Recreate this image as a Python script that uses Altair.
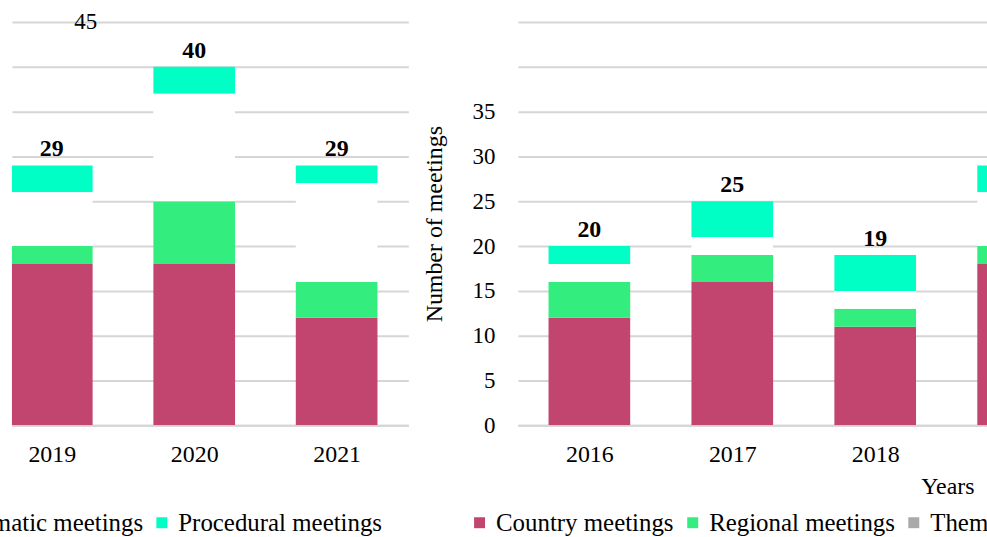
import altair as alt
import pandas as pd

# ---- data ----
years = [2016, 2017, 2018, 2019, 2020, 2021]
country = [12, 16, 11, 18, 18, 12]
regional = [4, 3, 2, 2, 7, 4]
thematic = [2, 2, 2, 6, 12, 11]
procedural = [2, 4, 4, 3, 3, 2]
totals = [20, 25, 19, 29, 40, 29]

types = ["Country meetings", "Regional meetings", "Thematic meetings", "Procedural meetings"]
colors = ["#c2456f", "#33ee7f", "#a9a9a9", "#00ffc4"]
y_ticks = [0, 5, 10, 15, 20, 25, 30, 35, 40, 45]
left_years = [2019, 2020, 2021]
right_years = [2016, 2017, 2018]

rows = []
for i, yr in enumerate(years):
    for k, (t, vals) in enumerate(zip(types, [country, regional, thematic, procedural])):
        rows.append({"year": yr, "type": t, "count": vals[i], "order": k})
df = pd.DataFrame(rows)
tot = pd.DataFrame({"year": years, "total": totals})

FONT = "Liberation Serif"
GRID = "#d6d6d6"


def panel(xdom, width, tick_years, yaxis, legend, xtitle=None):
    xs = alt.Scale(domain=xdom, nice=False, zero=False, padding=0)
    ys = alt.Scale(domain=[0, 45], nice=False, padding=0)
    xaxis_kw = dict(values=tick_years, format="d", ticks=False, tickSize=0, grid=False,
                    domainColor=GRID, domainWidth=2, labelFont=FONT, labelFontSize=24,
                    labelColor="black", labelPadding=17, labelFlush=False)
    if xtitle:
        xaxis_kw.update(title=xtitle, titleFont=FONT, titleFontSize=24, titleFontWeight="normal",
                        titleColor="black", titleAlign="right", titleAnchor="start",
                        titleX=458, titleY=68, titleBaseline="alphabetic")
    else:
        xaxis_kw.update(title=None)
    xaxis = alt.Axis(**xaxis_kw)

    base = alt.Chart(df).transform_stack(
        stack="count", groupby=["year"], sort=[alt.SortField("order", order="ascending")],
        as_=["y0", "y1"])
    bars = base.transform_filter("datum.type != 'Thematic meetings'").mark_bar(
        size=82, clip=True).encode(
        x=alt.X("year:Q", scale=xs, axis=xaxis),
        y=alt.Y("y1:Q", scale=ys, axis=yaxis),
        y2="y0:Q",
        color=alt.Color("type:N", scale=alt.Scale(domain=types, range=colors), legend=legend),
    )
    blank = base.transform_filter("datum.type == 'Thematic meetings'").mark_bar(
        size=82, clip=True, color="white").encode(
        x=alt.X("year:Q", scale=xs, axis=xaxis),
        y=alt.Y("y1:Q", scale=ys, axis=yaxis),
        y2="y0:Q",
    )
    labels = alt.Chart(tot).mark_text(
        clip=True, dy=-16, baseline="middle", fontWeight="bold", fontSize=24, font=FONT,
        color="black").encode(
        x=alt.X("year:Q", scale=xs, axis=xaxis),
        y=alt.Y("total:Q", scale=ys, axis=yaxis),
        text="total:Q",
    )
    return alt.layer(bars, blank, labels).properties(width=width, height=405)


common_legend = dict(orient="none", direction="horizontal", title=None, labelFont=FONT,
                     labelFontSize=25, labelColor="black", symbolType="square", symbolSize=121,
                     symbolStrokeWidth=0, labelOffset=4, columnPadding=6, padding=0,
                     labelLimit=400)

left_yaxis = alt.Axis(values=y_ticks, grid=True, gridColor=GRID, gridWidth=2, domain=False,
                      ticks=False, tickSize=0, labelFont=FONT, labelFontSize=23,
                      labelColor="black", labelPadding=-85,
                      labelExpr="datum.value == 45 ? datum.label : ''", title=None)
right_yaxis = alt.Axis(values=y_ticks, grid=True, gridColor=GRID, gridWidth=2, domain=False,
                       ticks=False, tickSize=0, labelFont=FONT, labelFontSize=23,
                       labelColor="black", labelPadding=23,
                       labelExpr="datum.value <= 35 ? datum.label : ''",
                       title="Number of meetings", titleFont=FONT, titleFontSize=24,
                       titleFontWeight="normal", titleColor="black", titlePadding=26)

left = panel([2019 - 40 / 143, 2019 - 40 / 143 + 398 / 143], 398, left_years, left_yaxis,
             alt.Legend(values=["Thematic meetings", "Procedural meetings"],
                        legendX=-88, legendY=490, **common_legend))
right = panel([2015.5, 2015.5 + 500 / 143.5], 500, right_years, right_yaxis,
              alt.Legend(values=types, legendX=-51, legendY=490, **common_legend),
              xtitle="Years")

chart = alt.hconcat(left, right, spacing=110, bounds="flush").resolve_scale(
    x="independent", y="independent", color="independent"
).properties(
    padding={"left": -76, "top": 10, "right": -374, "bottom": 2},
    background="white",
).configure_view(stroke=None)

chart.save("out.html", embed_options={"renderer": "svg", "actions": False})
